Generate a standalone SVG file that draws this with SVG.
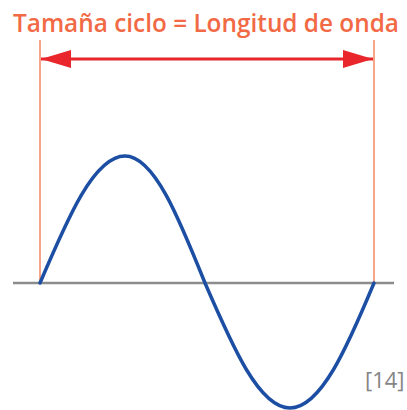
<svg xmlns="http://www.w3.org/2000/svg" width="407" height="410" viewBox="0 0 407 410">
<style>
.title{font-family:"Open Sans","DejaVu Sans",sans-serif;font-weight:600;font-size:22.5px;fill:#f26a45}
.ref{font-family:"Open Sans","DejaVu Sans",sans-serif;font-size:22px;fill:#858585}
.guide{stroke:#f6a58a;stroke-width:2;fill:none}
.dim{stroke:#e8262b;stroke-width:3;fill:none}
.axis{stroke:#8c8c8c;stroke-width:2.5;fill:none}
.wave{stroke:#1c4fa3;stroke-width:3.5;fill:none;stroke-linecap:round;stroke-linejoin:round}
</style>
<defs>
<marker id="ah" viewBox="0 0 30 18" refX="30" refY="9" markerWidth="30" markerHeight="18" markerUnits="userSpaceOnUse" orient="auto-start-reverse">
<path d="M0,0 L30,9 L0,18 Z" fill="#e8262b"/>
</marker>
</defs>
<rect width="407" height="410" fill="#ffffff"/>
<g id="title"><text class="title" transform="translate(13,32) scale(1,1.15)" x="0" y="0" textLength="386" lengthAdjust="spacingAndGlyphs">Tamaña ciclo = Longitud de onda</text></g>
<g id="connectors">
<line class="guide" x1="40" y1="40" x2="40" y2="283"/>
<line class="guide" x1="374" y1="40" x2="374" y2="283"/>
<line class="axis" x1="13" y1="283" x2="394" y2="283"/>
<line class="dim" x1="41" y1="59" x2="373" y2="59" marker-start="url(#ah)" marker-end="url(#ah)"/>
</g>
<g id="wave">
<path class="wave" d="M40,283 C67.7,217.9 94.2,156 125,156 C154,156 178.9,217.9 205,283 C232.7,347 259.2,408 290,408 C320.8,408 347.3,347 374,283"/>
</g>
<g id="ref"><text class="ref" x="365" y="388">[14]</text></g>
</svg>
